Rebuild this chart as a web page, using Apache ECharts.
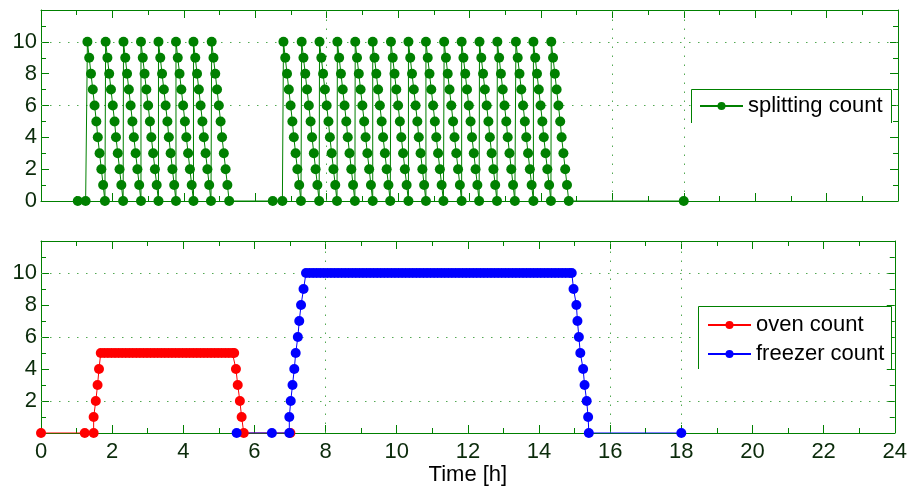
<!DOCTYPE html>
<html>
<head>
<meta charset="utf-8">
<script src="https://cdn.jsdelivr.net/npm/echarts@6/dist/echarts.min.js"></script>
<style>
html, body { margin: 0; background: #fff; }
#chart { width: 910px; height: 488px; }
</style>
</head>
<body>
<div id="chart"></div>
<script>
// splitting count: a run of teeth, each one falls from 10 to 0
const splitToothStart = [1.30, 1.81, 2.31, 2.80, 3.29, 3.78, 4.27, 4.78,
  6.79, 7.30, 7.80, 8.30, 8.80, 9.29, 9.80, 10.29, 10.78, 11.29, 11.78, 12.28, 12.78, 13.30, 13.79, 14.29]
const splitToothOffset = [0, 0.05, 0.10, 0.15, 0.20, 0.25, 0.29, 0.34, 0.39, 0.44, 0.49]
const splitToothLevel = [10, 9, 8, 7, 6, 5, 4, 3, 2, 1, 0]
// idle samples at zero
const splitIdleTime = [1.03, 1.25, 6.49, 6.76, 18.0]

const ovenTime = [0, 1.23, 1.48, 1.48, 1.54, 1.59, 1.63,
  1.68, 1.78, 1.88, 1.98, 2.08, 2.18, 2.28, 2.38, 2.48, 2.58,
  2.68, 2.78, 2.88, 2.98, 3.08, 3.18, 3.28, 3.38, 3.48, 3.58,
  3.68, 3.78, 3.88, 3.98, 4.08, 4.18, 4.28, 4.38, 4.48, 4.58,
  4.68, 4.78, 4.88, 4.98, 5.08, 5.18, 5.28, 5.38, 5.43,
  5.48, 5.53, 5.59, 5.64, 5.70, 7.01]
const ovenCount = [0, 0, 0, 1, 2, 3, 4,
  5, 5, 5, 5, 5, 5, 5, 5, 5, 5,
  5, 5, 5, 5, 5, 5, 5, 5, 5, 5,
  5, 5, 5, 5, 5, 5, 5, 5, 5, 5,
  5, 5, 5, 5, 5, 5, 5, 5, 5,
  4, 3, 2, 1, 0, 0]

const freezerTime = [5.50, 6.49, 6.98, 6.98, 7.02, 7.07, 7.12, 7.16, 7.22, 7.26, 7.31, 7.38,
  7.45, 7.55, 7.65, 7.75, 7.85, 7.95, 8.05, 8.15, 8.25, 8.35,
  8.45, 8.55, 8.65, 8.75, 8.85, 8.95, 9.05, 9.15, 9.25, 9.35,
  9.45, 9.55, 9.65, 9.75, 9.85, 9.95, 10.05, 10.15, 10.25, 10.35,
  10.45, 10.55, 10.65, 10.75, 10.85, 10.95, 11.05, 11.15, 11.25, 11.35,
  11.45, 11.55, 11.65, 11.75, 11.85, 11.95, 12.05, 12.15, 12.25, 12.35,
  12.45, 12.55, 12.65, 12.75, 12.85, 12.95, 13.05, 13.15, 13.25, 13.35,
  13.45, 13.55, 13.65, 13.75, 13.85, 13.95, 14.05, 14.15, 14.25, 14.35,
  14.45, 14.55, 14.65, 14.75, 14.85, 14.92,
  14.97, 15.05, 15.08, 15.12, 15.16, 15.24, 15.28, 15.34, 15.38, 15.40, 18.00]
const freezerCount = [0, 0, 0, 1, 2, 3, 4, 5, 6, 7, 8, 9,
  10, 10, 10, 10, 10, 10, 10, 10, 10, 10,
  10, 10, 10, 10, 10, 10, 10, 10, 10, 10,
  10, 10, 10, 10, 10, 10, 10, 10, 10, 10,
  10, 10, 10, 10, 10, 10, 10, 10, 10, 10,
  10, 10, 10, 10, 10, 10, 10, 10, 10, 10,
  10, 10, 10, 10, 10, 10, 10, 10, 10, 10,
  10, 10, 10, 10, 10, 10, 10, 10, 10, 10,
  10, 10, 10, 10, 10, 10,
  9, 8, 7, 6, 5, 4, 3, 2, 1, 0, 0]

// dotted grid lines that show in the picture
const gridX = [8, 16, 18]
const gridYTop = [6, 10]
const gridYBottom = [2, 6, 10]

const axisGreen = '#008000'
const labelColor = '#0b2b0b'
const font = "'Liberation Sans', Arial, sans-serif"

const splitPoints = []
splitToothStart.forEach(s => {
  splitToothOffset.forEach((o, i) => splitPoints.push([+(s + o).toFixed(2), splitToothLevel[i]]))
})
splitIdleTime.forEach(t => splitPoints.push([t, 0]))
splitPoints.sort((a, b) => a[0] - b[0])

const pairs = (xs, ys) => xs.map((x, i) => [x, ys[i]])

const gridMarks = ys => ({
  silent: true,
  z: 1,
  animation: false,
  symbol: ['none', 'none'],
  label: { show: false },
  lineStyle: { color: '#52a852', type: [1.5, 7.5], width: 1 },
  data: gridX.map(v => ({ xAxis: v })).concat(ys.map(v => ({ yAxis: v })))
})

const tickParts = {
  axisLine: { show: true, onZero: false, lineStyle: { color: axisGreen, width: 1 } },
  axisTick: { show: true, inside: true, length: 8, lineStyle: { color: axisGreen } },
  minorTick: { show: true, splitNumber: 2, length: 5, lineStyle: { color: axisGreen } },
  splitLine: { show: false }
}

const xAxis = (gridIndex, position, showLabels) => ({
  type: 'value', gridIndex, position, min: 0, max: 24, interval: 2,
  ...tickParts,
  axisLabel: { show: showLabels, fontSize: 22, fontFamily: font, color: labelColor, margin: 8 },
  name: showLabels ? 'Time [h]' : '',
  nameLocation: 'middle',
  nameGap: 31,
  nameTextStyle: { fontSize: 22, fontFamily: font, color: '#000' }
})

const yAxis = (gridIndex, position, showLabels, hideZero) => ({
  type: 'value', gridIndex, position, min: 0, max: 12, interval: 2,
  ...tickParts,
  axisLabel: {
    show: showLabels, fontSize: 22, fontFamily: font, color: labelColor, margin: 4,
    showMaxLabel: false, showMinLabel: !hideZero
  }
})

const seriesBase = {
  type: 'line', symbol: 'circle', symbolSize: 10, showAllSymbol: true
}

const chart = echarts.init(document.getElementById('chart'))
chart.setOption({
  animation: false,
  backgroundColor: '#fff',
  grid: [
    { left: 41, right: 12, top: 10, height: 191 },
    { left: 41, right: 12, top: 241, height: 192 }
  ],
  xAxis: [xAxis(0, 'bottom', false), xAxis(0, 'top', false), xAxis(1, 'bottom', true), xAxis(1, 'top', false)],
  yAxis: [yAxis(0, 'left', true, false), yAxis(0, 'right', false, false), yAxis(1, 'left', true, true), yAxis(1, 'right', false, true)],
  legend: [
    {
      data: ['splitting count'], left: 699, top: 95, padding: 0,
      itemWidth: 43, itemHeight: 10, z: 10,
      textStyle: { fontSize: 22, fontFamily: font, color: '#000' }
    },
    {
      data: ['oven count', 'freezer count'], orient: 'vertical', left: 707, top: 314, padding: 0,
      itemWidth: 43, itemHeight: 10, itemGap: 7, z: 10,
      textStyle: { fontSize: 22, fontFamily: font, color: '#000' }
    }
  ],
  graphic: [
    { type: 'rect', z: 3, shape: { x: 691, y: 89, width: 200, height: 34 }, style: { fill: '#fff' } },
    { type: 'polyline', z: 4, shape: { points: [[691.5, 123], [691.5, 89.5], [891.5, 89.5], [891.5, 123]] },
      style: { stroke: axisGreen, fill: null, lineWidth: 1 } },
    { type: 'rect', z: 3, shape: { x: 698, y: 306, width: 193, height: 63 }, style: { fill: '#fff' } },
    { type: 'polyline', z: 4, shape: { points: [[698.5, 369], [698.5, 306.5], [891.5, 306.5], [891.5, 369]] },
      style: { stroke: axisGreen, fill: null, lineWidth: 1 } }
  ],
  series: [
    {
      ...seriesBase, name: 'splitting count', xAxisIndex: 0, yAxisIndex: 0,
      data: splitPoints,
      itemStyle: { color: '#008000' }, lineStyle: { color: '#008000', width: 1 },
      markLine: gridMarks(gridYTop)
    },
    {
      ...seriesBase, name: 'oven count', xAxisIndex: 2, yAxisIndex: 2,
      data: pairs(ovenTime, ovenCount),
      itemStyle: { color: '#ff0000' }, lineStyle: { color: '#ff0000', width: 1 },
      markLine: gridMarks(gridYBottom)
    },
    {
      ...seriesBase, name: 'freezer count', xAxisIndex: 2, yAxisIndex: 2,
      data: pairs(freezerTime, freezerCount),
      itemStyle: { color: '#0000ff' }, lineStyle: { color: '#0000ff', width: 1 }
    }
  ]
})
</script>
</body>
</html>
